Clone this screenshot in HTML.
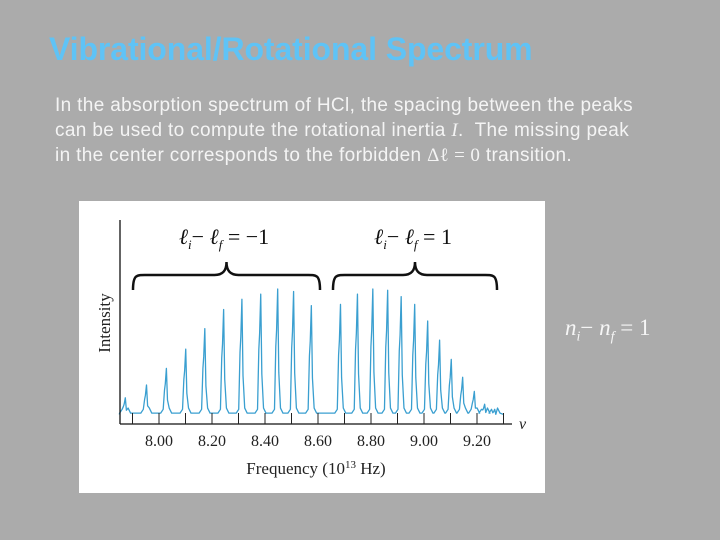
<!DOCTYPE html>
<html><head><meta charset="utf-8"><style>
html,body{margin:0;padding:0;}
body{width:720px;height:540px;background:#ababab;position:relative;overflow:hidden;font-family:"Liberation Sans",sans-serif;}
#title{position:absolute;left:49px;top:31px;font-size:32px;font-weight:bold;color:#5fc3f6;letter-spacing:-0.1px;white-space:nowrap;}
#body{position:absolute;left:55px;top:93px;font-size:19px;line-height:25px;color:#f4f4f4;white-space:nowrap;letter-spacing:0.35px;}
.m{font-family:"Liberation Serif",serif;}
#nlabel{position:absolute;left:565px;top:315px;font-family:"Liberation Serif",serif;font-size:23px;color:#f6f6f6;font-style:italic;white-space:nowrap;}
svg{position:absolute;left:0;top:0;}
</style></head><body>
<div id="title">Vibrational/Rotational Spectrum</div>
<div id="body">In the absorption spectrum of HCl, the spacing between the peaks<br>can be used to compute the rotational inertia <i class="m">I</i>.&nbsp; The missing peak<br>in the center corresponds to the forbidden <span class="m">Δℓ = 0</span> transition.</div>
<div id="nlabel">n<sub style="font-size:14px">i</sub><span style="font-style:normal">−</span> n<sub style="font-size:14px">f</sub><span style="font-style:normal"> = 1</span></div>
<svg id="chart" width="720" height="540"></svg>
<script>
const peakFreqs=[7.874,7.954,8.029,8.102,8.174,8.245,8.314,8.385,8.449,8.509,8.576,8.686,8.750,8.808,8.864,8.915,8.966,9.015,9.060,9.104,9.147,9.191,9.230,9.268];
const peakIntensity=[0.15,0.25,0.38,0.53,0.69,0.84,0.92,0.96,1.0,0.98,0.87,0.88,0.96,1.0,0.99,0.94,0.88,0.75,0.60,0.45,0.31,0.20,0.10,0.06];
const tickLabels=["8.00","8.20","8.40","8.60","8.80","9.00","9.20"];
const tickValues=[8.0,8.2,8.4,8.6,8.8,9.0,9.2];
const minorTicks=[7.9,8.0,8.1,8.2,8.3,8.4,8.5,8.6,8.7,8.8,8.9,9.0,9.1,9.2,9.3];

const NS="http://www.w3.org/2000/svg";
const svg=document.getElementById('chart');
function X(f){return 159+(f-8.0)*265;}
function Y(v){return 417-v*128;}
function mk(tag,attrs,parent){const e=document.createElementNS(NS,tag);for(const k in attrs)e.setAttribute(k,attrs[k]);(parent||svg).appendChild(e);return e;}

const box=mk('rect',{x:79,y:201,width:466,height:292,fill:'#ffffff'});



let d='M '+X(7.85)+' '+Y(0.02);
peakFreqs.forEach((f,i)=>{
  const x=X(f),v=peakIntensity[i];
  d+=' L '+(x-6)+' '+Y(0.03)+' L '+(x-3.5)+' '+Y(0.06)+' L '+(x-2.2)+' '+Y(v*0.55)+' L '+(x-1.4)+' '+Y(v*0.68)+' L '+(x-0.3)+' '+Y(v)+' L '+(x+0.8)+' '+Y(v*0.35)+' L '+(x+2.5)+' '+Y(0.07)+' L '+(x+5)+' '+Y(0.03);
});
d+=' L '+X(9.3)+' '+Y(0.02);
const sp=mk('path',{d:d,fill:'none',stroke:'#3a9fd0','stroke-width':1.3,'stroke-linejoin':'round'});



const ya=mk('line',{x1:120,y1:220,x2:120,y2:424,stroke:'#111','stroke-width':1.3});


const xa=mk('line',{x1:120,y1:424,x2:512,y2:424,stroke:'#111','stroke-width':1.3});


minorTicks.forEach(t=>{
  const l=mk('line',{x1:X(t),y1:413,x2:X(t),y2:424,stroke:'#222','stroke-width':1});
  
  
});
tickValues.forEach((t,i)=>{
  const tx=mk('text',{x:X(t),y:446,'text-anchor':'middle','font-family':'Liberation Serif, serif','font-size':16,fill:'#222'});
  tx.textContent=tickLabels[i];
  
  
});
const xt=mk('text',{x:316,y:474,'text-anchor':'middle','font-family':'Liberation Serif, serif','font-size':17,fill:'#222'});
xt.innerHTML='Frequency (10<tspan dy="-6" font-size="11">13</tspan><tspan dy="6"> Hz)</tspan>';


const yt=mk('text',{x:0,y:0,transform:'translate(110,323) rotate(-90)','text-anchor':'middle','font-family':'Liberation Serif, serif','font-size':17,fill:'#222'});
yt.textContent='Intensity';


const nu=mk('text',{x:519,y:429,'font-family':'Liberation Serif, serif','font-size':16,'font-style':'italic',fill:'#222'});
nu.textContent='ν';



function brace(x1,x2,name){
  const c=(x1+x2)/2,t=262,b=290,m=275;
  const p='M '+x1+' '+b+' C '+x1+' '+(m-2)+' '+(x1+4)+' '+m+' '+(x1+18)+' '+m+' L '+(c-12)+' '+m+' C '+(c-4)+' '+m+' '+c+' '+(m-4)+' '+c+' '+t+' C '+c+' '+(m-4)+' '+(c+4)+' '+m+' '+(c+12)+' '+m+' L '+(x2-18)+' '+m+' C '+(x2-4)+' '+m+' '+x2+' '+(m-2)+' '+x2+' '+b;
  const e=mk('path',{d:p,fill:'none',stroke:'#111','stroke-width':2.5});
  
  
}
brace(133,320,'left-brace');
brace(333,497,'right-brace');
function lab(x,html,name){
  const t=mk('text',{x:x,y:244,'text-anchor':'middle','font-family':'Liberation Serif, serif','font-size':22,fill:'#111'});
  t.innerHTML=html;
  
  
}
lab(224,'<tspan font-style="italic">ℓ</tspan><tspan font-size="13" dy="5" font-style="italic">i</tspan><tspan dy="-5">− </tspan><tspan font-style="italic">ℓ</tspan><tspan font-size="13" dy="5" font-style="italic">f</tspan><tspan dy="-5"> = −1</tspan>','left-brace-label');
lab(413,'<tspan font-style="italic">ℓ</tspan><tspan font-size="13" dy="5" font-style="italic">i</tspan><tspan dy="-5">− </tspan><tspan font-style="italic">ℓ</tspan><tspan font-size="13" dy="5" font-style="italic">f</tspan><tspan dy="-5"> = 1</tspan>','right-brace-label');
</script>
</body></html>
